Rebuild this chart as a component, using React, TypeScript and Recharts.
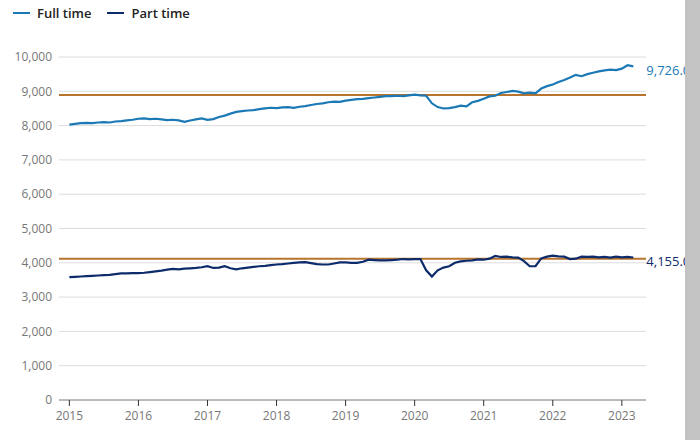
import {
  CartesianGrid,
  Line,
  LineChart,
  ReferenceLine,
  XAxis,
  YAxis,
} from "recharts";

// monthly, Jan 2015 .. Mar 2023
const startYear = 2015;

const fullTime = [
  8030, 8050, 8070, 8080, 8070, 8090, 8100, 8090, 8120, 8130, 8150, 8170,
  8200, 8210, 8190, 8200, 8180, 8160, 8170, 8150, 8110, 8150, 8180, 8210,
  8170, 8190, 8250, 8290, 8350, 8400, 8420, 8440, 8450, 8480, 8500, 8520,
  8510, 8530, 8540, 8520, 8550, 8570, 8600, 8630, 8650, 8680, 8700, 8690,
  8730, 8750, 8770, 8780, 8800, 8820, 8840, 8860, 8860, 8870, 8860, 8880,
  8900, 8880, 8870, 8650, 8540, 8500, 8510, 8540, 8580, 8560, 8680, 8720,
  8780, 8850, 8870, 8950, 8980, 9010, 8990, 8940, 8960, 8940, 9080, 9150,
  9200, 9270, 9330, 9400, 9480, 9440, 9500, 9540, 9580, 9610, 9630, 9620,
  9660, 9760, 9726,
];

const partTime = [
  3580, 3590, 3600, 3610, 3620, 3630, 3640, 3650, 3670, 3690, 3690, 3700,
  3700, 3710, 3730, 3750, 3770, 3800, 3820, 3810, 3830, 3840, 3850, 3870,
  3900, 3850, 3860, 3900, 3840, 3810, 3840, 3860, 3880, 3900, 3910, 3930,
  3950, 3960, 3980, 4000, 4010, 4020, 3990, 3960, 3950, 3950, 3980, 4010,
  4010, 4000, 4000, 4030, 4090, 4080, 4070, 4070, 4080, 4090, 4110, 4100,
  4110, 4110, 3780, 3600, 3780, 3860, 3900, 4000, 4040, 4060, 4070, 4100,
  4090, 4120, 4200, 4170, 4180, 4160, 4150, 4050, 3900, 3900, 4130, 4180,
  4210, 4190, 4180, 4110, 4120, 4180, 4170, 4180, 4160, 4170, 4150, 4180,
  4160, 4170, 4155,
];

const fullTimeAvg = 8890;
const partTimeAvg = 4120;

const yearTicks = [2015, 2016, 2017, 2018, 2019, 2020, 2021, 2022, 2023];
const valueTicks = [0, 1000, 2000, 3000, 4000, 5000, 6000, 7000, 8000, 9000, 10000];

const data = fullTime.map((v, i) => ({
  t: startYear + i / 12,
  full: v,
  part: partTime[i],
}));

const FULL = "#1b79b5";
const PART = "#0d2b6b";
const AVG = "#b8732c";

const fmt = (v: number) => v.toLocaleString("en-US");

function endLabel(color: string) {
  return (props: any) => {
    const { x, y, index, value } = props;
    if (index !== data.length - 1) return null;
    return (
      <text
        x={x + 13}
        y={y + 5}
        fill={color}
        fontSize={13}
        fontFamily="Open Sans"
        dominantBaseline="middle"
      >
        {value.toLocaleString("en-US", { minimumFractionDigits: 1 })}
      </text>
    );
  };
}

function LegendItem({ color, label }: { color: string; label: string }) {
  return (
    <span style={{ display: "inline-flex", alignItems: "center", marginRight: 16 }}>
      <span
        style={{
          display: "inline-block",
          width: 17,
          height: 2,
          background: color,
          marginRight: 7,
        }}
      />
      <span>{label}</span>
    </span>
  );
}

export default function App() {
  return (
    <div
      style={{
        position: "absolute",
        left: 0,
        top: 0,
        width: 700,
        height: 440,
        background: "#fff",
        overflow: "hidden",
      }}
    >
      <div
        style={{
          position: "absolute",
          left: 13,
          top: 4,
          fontFamily: "Open Sans",
          fontSize: 13,
          fontWeight: 600,
          color: "#222",
          display: "flex",
        }}
      >
        <LegendItem color={FULL} label="Full time" />
        <LegendItem color={PART} label="Part time" />
      </div>
      <LineChart
        width={700}
        height={440}
        data={data}
        margin={{ top: 57, right: 54, bottom: 0, left: 0 }}
      >
        <CartesianGrid vertical={false} stroke="#dcdcdc" />
        <XAxis
          type="number"
          dataKey="t"
          domain={[2014.85, 2023.35]}
          ticks={yearTicks}
          allowDataOverflow
          height={40}
          axisLine={{ stroke: "#8a8a8a" }}
          tickLine={{ stroke: "#333" }}
          tickSize={6}
          tickMargin={5}
          tick={{ fill: "#777", fontSize: 12, fontFamily: "Open Sans" }}
        />
        <YAxis
          domain={[0, 10000]}
          ticks={valueTicks}
          width={59}
          axisLine={false}
          tickLine={false}
          tickSize={0}
          tickMargin={7}
          tickFormatter={fmt}
          tick={{ fill: "#777", fontSize: 12, fontFamily: "Open Sans" }}
        />
        <ReferenceLine y={fullTimeAvg} stroke={AVG} strokeWidth={2} />
        <ReferenceLine y={partTimeAvg} stroke={AVG} strokeWidth={2} />
        <Line
          dataKey="full"
          stroke={FULL}
          strokeWidth={2.2}
          dot={false}
          isAnimationActive={false}
          label={endLabel(FULL)}
        />
        <Line
          dataKey="part"
          stroke={PART}
          strokeWidth={2.2}
          dot={false}
          isAnimationActive={false}
          label={endLabel(PART)}
        />
      </LineChart>
      <div
        style={{
          position: "absolute",
          right: 0,
          top: 0,
          width: 15,
          height: 440,
          background: "#c3c3c3",
        }}
      />
    </div>
  );
}
